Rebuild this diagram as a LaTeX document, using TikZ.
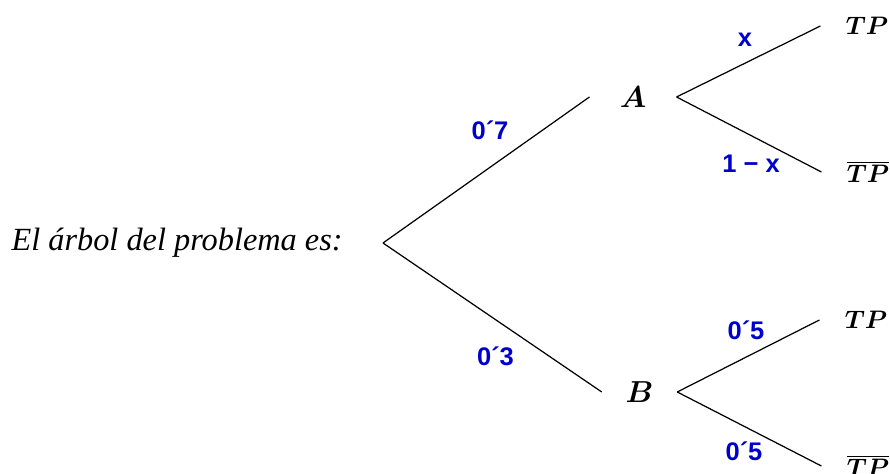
\documentclass[tikz,border=0pt]{standalone}
\usepackage{bm}
\usepackage{fontspec}
\setmainfont{Liberation Serif}
\newfontfamily\etiqfont{Liberation Sans}
\usetikzlibrary{positioning}
\definecolor{figAzulEtiq}{RGB}{0,0,205}
\tikzset{
  rama/.style={line width=0.7pt, draw=black},
  suceso/.style={
    inner xsep=0.6cm, inner ysep=2pt, font=\fontsize{17}{20}\selectfont
  },
  hoja/.style={
    inner xsep=0.5cm, inner ysep=2pt, font=\fontsize{15}{18}\selectfont
  },
  prob/.style={
    text=figAzulEtiq, inner sep=0pt,
    font=\etiqfont\bfseries\fontsize{14.5}{17}\selectfont
  },
  enunciado/.style={inner sep=0pt, font=\fontsize{18.4}{22}\selectfont\itshape}
}

\begin{document}
\begin{tikzpicture}
  \useasboundingbox (0,0) rectangle (17.8,9.48);
  \coordinate (raiz) at (7.66,4.62);
  \node[enunciado, left=0.8cm of raiz] (texto) {El árbol del problema es:};

  \node[suceso] (A) at (12.66,7.54) {$\bm{A}$};
  \node[suceso, inner xsep=0.47cm] (B) at (12.79,1.64) {$\bm{B}$};

  \node[hoja] (A1) at (17.34,8.96) {$\bm{TP}$};
  \node[hoja] (A2) at (17.36,6.04) {$\overline{\bm{TP}}$};
  \node[hoja] (B1) at (17.32,3.08) {$\bm{TP}$};
  \node[hoja] (B2) at (17.36,0.16) {$\overline{\bm{TP}}$};

  \draw[rama] (raiz) -- (A.west);
  \draw[rama] (raiz) -- (B.west);
  \draw[rama] (A.east) -- (A1.west);
  \draw[rama] (A.east) -- (A2.west);
  \draw[rama] (B.east) -- (B1.west);
  \draw[rama] (B.east) -- (B2.west);

  \node[prob] (pA) at (9.8,6.87) {0´7};
  \node[prob] (pB) at (9.91,2.36) {0´3};
  \node[prob] (pA1) at (14.9,8.68) {x};
  \node[prob] (pA2) at (15.02,6.2) {1 − x};
  \node[prob] (pB1) at (14.92,2.87) {0´5};
  \node[prob] (pB2) at (14.88,0.45) {0´5};
\end{tikzpicture}
\end{document}
